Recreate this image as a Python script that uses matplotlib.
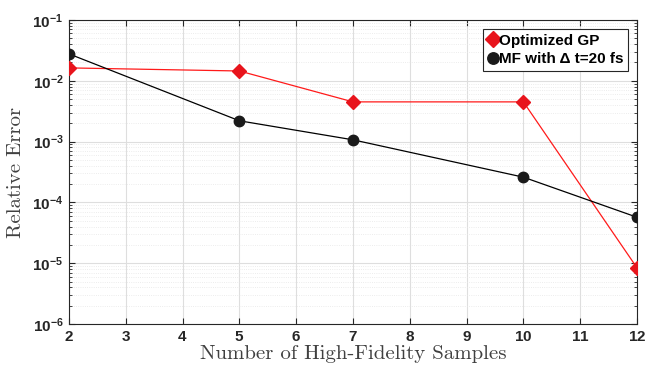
#!/usr/bin/env python3
# -*- coding: utf-8 -*-

from matplotlib import pyplot as plt
from matplotlib.ticker import LogLocator, NullFormatter

# number of high-fidelity samples
samples = [2, 5, 7, 10, 12]

# relative error per model
gp_error = [0.0163, 0.0145, 0.0045, 0.0045, 8.4e-6]
mf_error = [0.0277, 0.0022, 0.00107, 0.00026, 5.7e-5]

axis_color = '#262626'


def plot_errors():
    fig = plt.figure(figsize=(6.47, 3.71), dpi=100)
    ax = fig.add_axes([69 / 647, 47 / 371, 568 / 647, 304 / 371])

    ax.semilogy(samples, gp_error, color='#ff1a1a', lw=0.9, marker='D',
                ms=7, mfc='#e8141c', mec='#e8141c', label='Optimized GP', zorder=3)
    ax.semilogy(samples, mf_error, color='black', lw=0.9, marker='o',
                ms=7.5, mfc='#1a1a1a', mec='#1a1a1a', label=u'MF with \u0394 t=20 fs', zorder=3)

    ax.set_xlim(2, 12)
    ax.set_ylim(1e-6, 1e-1)
    ax.set_xticks(range(2, 13))
    ax.yaxis.set_major_locator(LogLocator(base=10, numticks=10))
    ax.yaxis.set_minor_locator(LogLocator(base=10, subs=range(2, 10), numticks=20))
    ax.yaxis.set_minor_formatter(NullFormatter())

    ax.grid(True, which='major', color='#dedede', lw=0.8, ls='-')
    ax.grid(True, which='minor', axis='y', color='#e6e6e6', lw=0.6, ls=':')
    ax.set_axisbelow(True)

    ax.tick_params(which='both', direction='in', top=True, right=True, colors=axis_color)
    ax.tick_params(which='major', length=4, labelsize=11, pad=4)
    ax.tick_params(which='minor', length=2)
    for lab in ax.get_xticklabels() + ax.get_yticklabels():
        lab.set_fontweight('bold')
        lab.set_family('Liberation Sans')
    for sp in ax.spines.values():
        sp.set_color(axis_color)
        sp.set_linewidth(0.8)

    ax.set_xlabel('Number of High-Fidelity Samples', fontname='cmr10',
                  fontsize=15, color='#404040', labelpad=1)
    ax.set_ylabel('Relative Error', fontname='cmr10', fontsize=15,
                  color='#404040', labelpad=5)

    leg = ax.legend(loc='upper right', fancybox=False, framealpha=1,
                    edgecolor=axis_color, handlelength=0.6, handletextpad=0.1,
                    borderpad=0.3, labelspacing=0.3, borderaxespad=0.6,
                    markerscale=1.1,
                    prop={'family': 'Liberation Sans', 'weight': 'bold', 'size': 11})
    leg.get_frame().set_linewidth(0.8)

    fig.savefig('out.png', dpi=100)
    plt.close(fig)


if __name__ == '__main__':
    plt.rcParams['axes.formatter.use_mathtext'] = True
    plot_errors()
